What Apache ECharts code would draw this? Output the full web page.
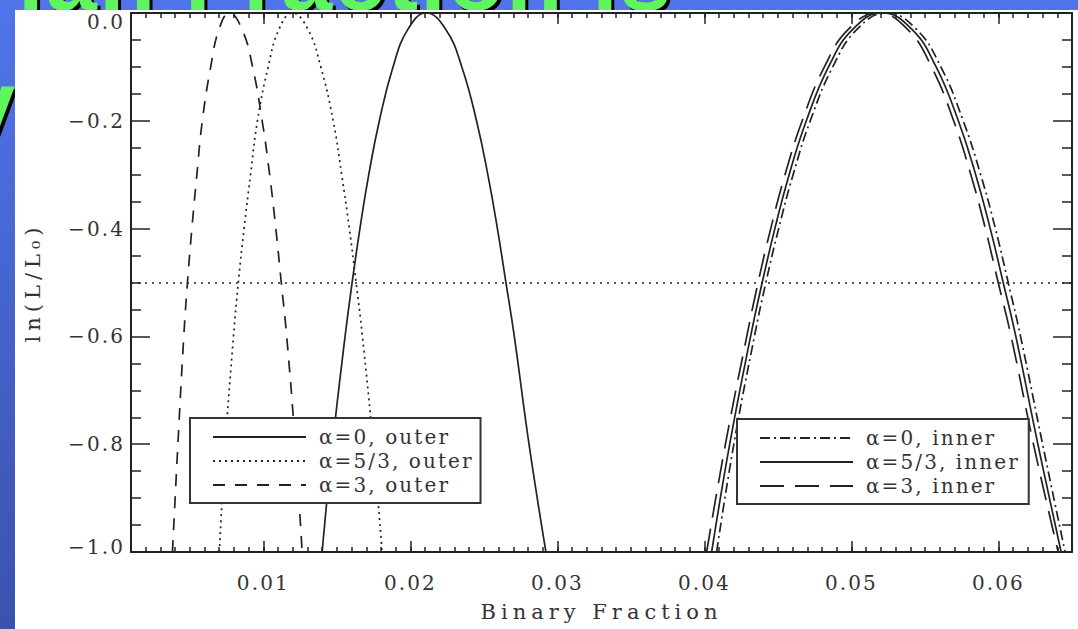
<!DOCTYPE html>
<html><head><meta charset="utf-8">
<script src="https://cdn.jsdelivr.net/npm/echarts@6/dist/echarts.min.js"></script>
<style>
html,body{margin:0;padding:0;background:#fff;}
#chart{width:1078px;height:629px;}
#chart svg text{letter-spacing:2.1px;}
</style></head><body><div id="chart"></div>
<script>
// ln(L/L0) levels at which each curve's binary fraction was read (left branch -> peak -> right branch)
const yLevels = [-1, -0.8, -0.6, -0.5, -0.4, -0.3, -0.2, -0.1, -0.03, 0, -0.03, -0.1, -0.2, -0.3, -0.4, -0.5, -0.6, -0.8, -1];

const outerAlpha0   = [0.0140, 0.01471, 0.01556, 0.01604, 0.01657, 0.01717, 0.01789, 0.01882, 0.01984, 0.02107, 0.0224, 0.0235, 0.0245, 0.02527, 0.02592, 0.0265, 0.02707, 0.02807, 0.02922];
const outerAlpha53  = [0.00701, 0.00742, 0.00797, 0.00830, 0.00869, 0.00913, 0.00960, 0.01033, 0.01107, 0.01197, 0.01303, 0.01391, 0.01475, 0.01533, 0.01585, 0.01631, 0.01674, 0.01747, 0.01808];
const outerAlpha3   = [0.00382, 0.00419, 0.00459, 0.00484, 0.00514, 0.00548, 0.00585, 0.00642, 0.00699, 0.00769, 0.00855, 0.00927, 0.00992, 0.01043, 0.01085, 0.01122, 0.01159, 0.01217, 0.01264];
const innerAlpha0   = [0.04083, 0.0420, 0.0434, 0.04418, 0.04505, 0.04603, 0.0472, 0.04873, 0.05039, 0.0524, 0.05441, 0.05608, 0.0576, 0.05879, 0.05979, 0.06066, 0.0615, 0.0630, 0.06453];
const innerAlpha53  = [0.04049, 0.04172, 0.04314, 0.04393, 0.04479, 0.04576, 0.04693, 0.04844, 0.0501, 0.0521, 0.0541, 0.05576, 0.05727, 0.05845, 0.05944, 0.06032, 0.06118, 0.06268, 0.06426];
const innerAlpha3   = [0.04015, 0.04143, 0.04288, 0.04365, 0.04451, 0.04548, 0.04665, 0.04816, 0.0498, 0.0518, 0.0538, 0.05545, 0.05695, 0.05812, 0.05911, 0.05998, 0.06086, 0.06238, 0.06406];

const seriesNames = ['α=0, outer', 'α=5/3, outer', 'α=3, outer', 'α=0, inner', 'α=5/3, inner', 'α=3, inner'];
const xMajorTicks = [0.01, 0.02, 0.03, 0.04, 0.05, 0.06];
const xRange = [0.001, 0.065];
const yRange = [-1, 0];
const yInterval = 0.2;
const cutLevel = -0.5;
const xTitle = 'Binary Fraction';
const yTitle = 'ln(L/L₀)';
const slideLine1 = 'ian Fraction is';
const slideLine2 = 'y';

const FONT = "'DejaVu Serif', serif";
const INK = '#222';
const dashes = ['solid', [2, 4], [12, 10], [10, 4, 2, 4], 'solid', [24, 11]];
const curves = [outerAlpha0, outerAlpha53, outerAlpha3, innerAlpha0, innerAlpha53, innerAlpha3];

const series = curves.map((xs, i) => ({
  name: seriesNames[i],
  type: 'line',
  xAxisIndex: 0, yAxisIndex: 0,
  data: xs.map((x, k) => [x, yLevels[k]]),
  smooth: 0.45,
  symbol: 'none',
  clip: true,
  itemStyle: { color: INK },
  lineStyle: { color: INK, width: 1.7, type: dashes[i] },
  emphasis: { disabled: true },
  z: 3
}));
series[0].markLine = {
  silent: true, symbol: ['none', 'none'], label: { show: false },
  lineStyle: { color: INK, width: 1.6, type: [2, 5] },
  data: [{ yAxis: cutLevel }]
};

const axisLineStyle = { color: INK, width: 2 };
const tickStyle = { color: INK, width: 1.5 };
const labelStyle = { fontFamily: FONT, fontSize: 20, color: '#333' };

const legendBase = {
  orient: 'vertical', itemWidth: 93, itemHeight: 14, itemGap: 4,
  borderColor: '#333', borderWidth: 2, backgroundColor: '#fff',
  itemStyle: { color: 'rgba(0,0,0,0)', borderWidth: 0, opacity: 0 },
  textStyle: { fontFamily: FONT, fontSize: 20, color: '#333', padding: [0, 0, 0, 8] },
  selectedMode: false
};

const bigFont = 'bold 92px "Liberation Sans"';
function slideText(text, x, y, fill, z) {
  return { type: 'text', x: x, y: y, z: z, silent: true, style: { text: text, fill: fill, font: bigFont, lineHeight: 30, align: 'left', verticalAlign: 'middle', textAlign: 'left', textVerticalAlign: 'middle' } };
}

const option = {
  animation: false,
  backgroundColor: new echarts.graphic.LinearGradient(0, 0, 0, 1, [
    { offset: 0, color: '#5074ea' }, { offset: 1, color: '#3b52ad' }
  ]),
  graphic: [
    slideText(slideLine1, 21, -19, '#000', -30),
    slideText(slideLine1, 18, -22, '#5ff55f', -29),
    slideText(slideLine2, -33, 107, '#000', -30),
    slideText(slideLine2, -36, 104, '#5ff55f', -29),
    { type: 'rect', z: -20, silent: true, shape: { x: 15, y: 10, width: 1063, height: 619 }, style: { fill: '#fff' } }
  ],
  grid: { left: 131, right: 6, top: 13, bottom: 77, containLabel: false },
  legend: [
    Object.assign({}, legendBase, { data: seriesNames.slice(0, 3), left: 190, top: 418, padding: [9, 32, 8, 22] }),
    Object.assign({}, legendBase, { data: seriesNames.slice(3, 6), left: 737, top: 419, padding: [9, 34, 8, 22] })
  ],
  xAxis: [
    { type: 'value', position: 'bottom', min: xRange[0], max: xRange[1],
      axisLine: { show: true, onZero: false, lineStyle: axisLineStyle },
      axisTick: { show: true, inside: true, length: 11, customValues: xMajorTicks, lineStyle: tickStyle },
      axisLabel: Object.assign({ customValues: xMajorTicks, margin: 21, formatter: v => v.toFixed(2) }, labelStyle),
      splitLine: { show: false },
      name: xTitle, nameLocation: 'middle', nameGap: 49,
      nameTextStyle: { fontFamily: FONT, fontSize: 21, color: '#333' } },
    { type: 'value', position: 'bottom', min: xRange[0], max: xRange[1], interval: 0.001,
      axisLine: { show: false, onZero: false },
      axisTick: { show: true, inside: true, length: 5, lineStyle: tickStyle },
      axisLabel: { show: false }, splitLine: { show: false } },
    { type: 'value', position: 'top', min: xRange[0], max: xRange[1],
      axisLine: { show: true, onZero: false, lineStyle: axisLineStyle },
      axisTick: { show: true, inside: true, length: 11, customValues: xMajorTicks, lineStyle: tickStyle },
      axisLabel: { show: false }, splitLine: { show: false } },
    { type: 'value', position: 'top', min: xRange[0], max: xRange[1], interval: 0.001,
      axisLine: { show: false, onZero: false },
      axisTick: { show: true, inside: true, length: 5, lineStyle: tickStyle },
      axisLabel: { show: false }, splitLine: { show: false } }
  ],
  yAxis: [
    { type: 'value', position: 'left', min: yRange[0], max: yRange[1], interval: yInterval,
      axisLine: { show: true, onZero: false, lineStyle: axisLineStyle },
      axisTick: { show: true, inside: true, length: 19, lineStyle: tickStyle },
      minorTick: { show: true, splitNumber: 4, length: 10, lineStyle: tickStyle },
      axisLabel: Object.assign({
        margin: 6,
        formatter: v => {
          const s = v.toFixed(1).replace('-', '\u2212');
          if (Math.abs(v - yRange[1]) < 1e-9) return '{top|' + s + '}';
          if (Math.abs(v - yRange[0]) < 1e-9) return '{bot|' + s + '}';
          return s;
        },
        rich: {
          top: { fontFamily: FONT, fontSize: 20, color: '#333', padding: [17, 0, 0, 0] },
          bot: { fontFamily: FONT, fontSize: 20, color: '#333', padding: [0, 0, 10, 0] }
        }
      }, labelStyle),
      splitLine: { show: false },
      name: yTitle, nameLocation: 'middle', nameGap: 88, nameRotate: 90,
      nameTextStyle: { fontFamily: FONT, fontSize: 21, color: '#333' } },
    { type: 'value', position: 'right', min: yRange[0], max: yRange[1], interval: yInterval,
      axisLine: { show: true, onZero: false, lineStyle: axisLineStyle },
      axisTick: { show: true, inside: true, length: 19, lineStyle: tickStyle },
      minorTick: { show: true, splitNumber: 4, length: 10, lineStyle: tickStyle },
      axisLabel: { show: false }, splitLine: { show: false } }
  ],
  series: series
};

const chart = echarts.init(document.getElementById('chart'), null, { renderer: 'svg' });
function applySpacing() {
  document.querySelectorAll('#chart svg text').forEach(t => {
    const c = (t.textContent || '').trim();
    if (c === xTitle) t.style.letterSpacing = '5px';
    else if (c === yTitle) t.style.letterSpacing = '5px';
  });
}
chart.on('finished', applySpacing);
chart.setOption(option);
setTimeout(applySpacing, 50);
</script></body></html>
